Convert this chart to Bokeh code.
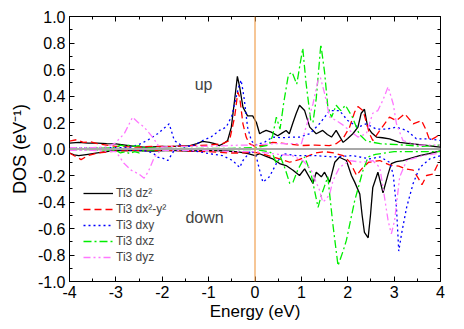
from bokeh.plotting import figure
from bokeh.models import (Span, Legend, LegendItem, LinearAxis, FixedTicker,
                          PrintfTickFormatter, Label, Range1d)
from bokeh.embed import file_html
from bokeh.resources import INLINE

FONT = "Liberation Sans"

# ---------------- data ----------------
x_ticks = [-4, -3, -2, -1, 0, 1, 2, 3, 4]
y_ticks = [-1.0, -0.8, -0.6, -0.4, -0.2, 0.0, 0.2, 0.4, 0.6, 0.8, 1.0]

labels = ["Ti3 dz\u00b2", "Ti3 dx\u00b2-y\u00b2", "Ti3 dxy", "Ti3 dxz", "Ti3 dyz"]

dz2_up_E = [-4.0,-3.8,-3.6,-3.4,-3.2,-3.0,-2.8,-2.6,-2.4,-2.2,-2.0,-1.8,-1.6,-1.4,-1.25,-1.13,-0.98,-0.87,-0.77,-0.66,-0.59,-0.51,-0.44,-0.38,-0.33,-0.26,-0.16,-0.05,0.03,0.1,0.17,0.24,0.35,0.49,0.58,0.67,0.74,0.82,0.89,0.96,1.07,1.18,1.32,1.46,1.56,1.65,1.75,1.9,2.0,2.11,2.22,2.29,2.36,2.43,2.52,2.62,2.75,2.9,3.12,3.34,3.5,3.7,3.85,4.0]
dz2_up = [0.045,0.05,0.044,0.045,0.04,0.038,0.03,0.02,0.014,0.016,0.02,0.018,0.024,0.026,0.04,0.057,0.05,0.04,0.026,0.045,0.064,0.165,0.37,0.548,0.467,0.316,0.25,0.25,0.2,0.115,0.13,0.14,0.127,0.1,0.12,0.14,0.115,0.2,0.27,0.33,0.29,0.165,0.115,0.14,0.11,0.09,0.14,0.05,0.08,0.115,0.165,0.27,0.3,0.165,0.12,0.09,0.085,0.077,0.05,0.04,0.035,0.027,0.02,0.014]

dz2_dn_E = [-4.0,-3.9,-3.8,-3.6,-3.4,-3.2,-3.0,-2.6,-2.2,-1.8,-1.4,-1.0,-0.6,-0.33,-0.15,0.0,0.1,0.2,0.38,0.53,0.67,0.82,0.96,1.07,1.25,1.32,1.43,1.5,1.61,1.72,1.82,1.97,2.08,2.15,2.26,2.31,2.36,2.44,2.49,2.54,2.65,2.76,2.87,2.94,3.05,3.19,3.35,3.55,3.75,4.0]
dz2_dn = [-0.03,-0.045,-0.05,-0.04,-0.03,-0.02,-0.01,-0.012,-0.015,-0.01,-0.015,-0.01,-0.015,-0.024,-0.035,-0.05,-0.036,-0.05,-0.074,-0.11,-0.125,-0.16,-0.2,-0.15,-0.26,-0.175,-0.21,-0.175,-0.25,-0.1,-0.062,-0.087,-0.2,-0.25,-0.34,-0.5,-0.63,-0.67,-0.5,-0.29,-0.175,-0.33,-0.19,-0.11,-0.095,-0.087,-0.07,-0.05,-0.035,-0.015]

dx2_up_E = [-4.0,-3.85,-3.7,-3.55,-3.4,-3.2,-3.0,-2.6,-2.2,-1.8,-1.4,-1.0,-0.7,-0.55,-0.44,-0.37,-0.33,-0.26,-0.19,-0.12,0.0,0.2,0.38,0.55,0.74,1.0,1.3,1.6,1.75,1.9,2.04,2.15,2.22,2.33,2.47,2.54,2.69,2.9,3.05,3.23,3.41,3.59,3.68,3.77,3.9,4.0]
dx2_up = [0.06,0.07,0.05,0.055,0.04,0.03,0.02,0.015,0.02,0.02,0.025,0.03,0.04,0.064,0.24,0.43,0.39,0.19,0.09,0.04,0.02,0.03,0.05,0.045,0.038,0.026,0.03,0.025,0.04,0.08,0.165,0.28,0.32,0.29,0.115,0.064,0.14,0.24,0.215,0.266,0.19,0.215,0.15,0.064,0.09,0.115]

dx2_dn_E = [-4.0,-3.85,-3.75,-3.6,-3.4,-3.0,-2.5,-2.0,-1.5,-1.0,-0.6,-0.3,0.0,0.2,0.38,0.53,0.75,0.95,1.1,1.3,1.5,1.7,1.9,2.05,2.19,2.3,2.45,2.69,2.9,3.1,3.25,3.41,3.52,3.6,3.7,3.84,3.98]
dx2_dn = [-0.03,-0.06,-0.08,-0.05,-0.03,-0.015,-0.01,-0.01,-0.015,-0.02,-0.03,-0.03,-0.025,-0.04,-0.06,-0.074,-0.1,-0.08,-0.06,-0.03,-0.02,-0.03,-0.05,-0.1,-0.2,-0.15,-0.1,-0.087,-0.12,-0.13,-0.15,-0.16,-0.22,-0.27,-0.2,-0.19,-0.087]

dxy_up_E = [-4.0,-3.5,-3.0,-2.7,-2.46,-2.3,-2.1,-1.95,-1.85,-1.74,-1.6,-1.52,-1.3,-1.13,-0.95,-0.77,-0.62,-0.5,-0.44,-0.36,-0.3,-0.26,-0.23,-0.16,-0.08,0.0,0.2,0.38,0.6,0.8,0.96,1.18,1.39,1.61,1.82,2.0,2.22,2.4,2.62,2.83,3.05,3.27,3.48,3.73,4.0]
dxy_up = [0.01,0.01,0.01,0.012,0.04,0.07,0.115,0.16,0.19,0.064,0.03,0.014,0.03,0.064,0.09,0.14,0.165,0.25,0.34,0.46,0.52,0.44,0.37,0.165,0.064,0.03,0.05,0.09,0.085,0.09,0.09,0.115,0.19,0.29,0.29,0.215,0.165,0.19,0.15,0.15,0.165,0.14,0.077,0.077,0.064]

dxy_dn_E = [-4.0,-3.0,-2.4,-2.2,-2.1,-1.98,-1.88,-1.74,-1.5,-1.2,-0.98,-0.7,-0.48,-0.33,-0.26,-0.15,-0.08,0.03,0.1,0.17,0.24,0.31,0.46,0.6,0.9,1.3,1.7,2.1,2.47,2.7,2.9,2.98,3.05,3.1,3.16,3.27,3.41,3.55,3.77,4.0]
dxy_dn = [-0.005,-0.005,-0.01,-0.03,-0.062,-0.07,-0.087,-0.01,-0.01,-0.02,-0.036,-0.05,-0.087,-0.14,-0.087,-0.04,-0.01,-0.06,-0.16,-0.25,-0.23,-0.21,-0.11,-0.036,-0.05,-0.05,-0.06,-0.05,-0.074,-0.06,-0.1,-0.19,-0.44,-0.77,-0.64,-0.44,-0.26,-0.14,-0.074,-0.05]

dxz_up_E = [-4.0,-3.5,-3.0,-2.9,-2.8,-2.7,-2.6,-2.5,-2.4,-2.0,-1.5,-1.0,-0.5,0.0,0.3,0.38,0.46,0.54,0.62,0.72,0.8,0.9,1.03,1.1,1.2,1.25,1.32,1.42,1.5,1.57,1.65,1.75,1.85,1.95,2.1,2.25,2.4,2.7,3.2,3.6,4.0]
dxz_up = [0.005,0.005,0.01,0.03,0.02,0.03,0.02,0.025,0.01,0.005,0.005,0.005,0.005,0.01,0.03,0.1,0.24,0.15,0.35,0.56,0.58,0.49,0.76,0.5,0.22,0.2,0.38,0.79,0.58,0.32,0.24,0.33,0.29,0.33,0.24,0.11,0.06,0.04,0.03,0.02,0.03]

dxz_dn_E = [-4.0,-3.5,-3.0,-2.9,-2.8,-2.7,-2.6,-2.5,-2.4,-2.0,-1.0,0.0,0.3,0.38,0.46,0.55,0.65,0.75,0.82,0.92,1.07,1.21,1.36,1.43,1.5,1.57,1.68,1.79,1.9,1.97,2.15,2.33,2.44,2.6,3.0,3.5,4.0]
dxz_dn = [-0.005,-0.005,-0.01,-0.03,-0.02,-0.035,-0.02,-0.03,-0.01,-0.005,-0.005,-0.005,-0.02,-0.036,-0.11,-0.06,-0.15,-0.26,-0.25,-0.16,-0.06,-0.19,-0.44,-0.35,-0.28,-0.21,-0.57,-0.88,-0.77,-0.69,-0.39,-0.16,-0.06,-0.04,-0.02,-0.02,-0.02]

dyz_up_E = [-4.0,-3.5,-3.2,-3.03,-2.82,-2.64,-2.52,-2.39,-2.21,-2.06,-1.8,-1.4,-1.0,-0.6,-0.3,0.0,0.4,0.8,1.0,1.1,1.25,1.36,1.41,1.5,1.61,1.75,1.9,2.04,2.22,2.4,2.54,2.65,2.76,2.87,2.98,3.05,3.19,3.5,4.0]
dyz_up = [0.01,0.01,0.015,0.04,0.115,0.24,0.2,0.165,0.09,0.014,0.02,0.02,0.02,0.025,0.03,0.03,0.04,0.04,0.04,0.165,0.34,0.52,0.54,0.42,0.24,0.215,0.18,0.14,0.09,0.115,0.27,0.29,0.37,0.47,0.34,0.19,0.064,0.03,0.03]

dyz_dn_E = [-4.0,-3.5,-3.0,-2.82,-2.67,-2.5,-2.39,-2.3,-2.17,-2.03,-1.5,-1.0,-0.5,0.0,0.5,0.8,1.03,1.2,1.39,1.46,1.53,1.61,1.68,1.82,2.04,2.3,2.54,2.69,2.76,2.87,2.94,3.01,3.06,3.12,3.27,3.62,4.0]
dyz_dn = [-0.01,-0.01,-0.02,-0.11,-0.16,-0.19,-0.22,-0.17,-0.062,-0.01,-0.01,-0.01,-0.02,-0.02,-0.04,-0.05,-0.087,-0.15,-0.31,-0.4,-0.38,-0.34,-0.24,-0.14,-0.087,-0.1,-0.087,-0.14,-0.29,-0.54,-0.64,-0.54,-0.39,-0.21,-0.087,-0.05,-0.03]

# ---------------- figure ----------------
p = figure(frame_width=371, frame_height=265, output_backend="svg",
           toolbar_location=None, x_range=Range1d(-4, 4), y_range=Range1d(-1, 1),
           min_border_left=69, min_border_right=16, min_border_top=16,
           min_border_bottom=46, background_fill_color="white",
           border_fill_color="white")
p.grid.visible = False
p.outline_line_color = "black"
p.outline_line_width = 1

def style_axis(ax, show_labels):
    ax.major_tick_in = 5
    ax.major_tick_out = 0
    ax.minor_tick_in = 3
    ax.minor_tick_out = 0
    ax.axis_line_color = "black"
    ax.major_tick_line_color = "black"
    ax.minor_tick_line_color = "black"
    ax.major_label_text_font = FONT
    ax.axis_label_text_font = FONT
    ax.axis_label_text_font_style = "normal"
    ax.axis_label_text_color = "black"
    if show_labels:
        ax.major_label_text_color = "black"
        ax.major_label_text_font_size = "16px"
        ax.axis_label_text_font_size = "17px"
    else:
        ax.major_label_text_color = None
        ax.major_label_text_alpha = 0
        ax.major_label_text_font_size = "1px"
        ax.major_label_standoff = 0

xt = FixedTicker(ticks=x_ticks, minor_ticks=[v / 2 for v in range(-8, 9)])
yt = FixedTicker(ticks=y_ticks, minor_ticks=[round(v / 10, 1) for v in range(-10, 11)])

p.xaxis.ticker = xt
p.yaxis.ticker = yt
p.xaxis.formatter = PrintfTickFormatter(format="%d")
p.yaxis.formatter = PrintfTickFormatter(format="%.1f")
p.xaxis.axis_label = "Energy (eV)"
p.yaxis.axis_label = "DOS (eV\u207b\u00b9)"
for ax in p.xaxis + p.yaxis:
    style_axis(ax, True)
p.yaxis.axis_label_text_font_size = "18px"
p.xaxis.major_label_standoff = 4
p.xaxis.axis_label_standoff = 1
p.yaxis.major_label_standoff = 4
p.yaxis.axis_label_standoff = 5

top = LinearAxis(ticker=xt)
right = LinearAxis(ticker=yt)
style_axis(top, False)
style_axis(right, False)
p.add_layout(top, "above")
p.add_layout(right, "right")

# reference lines
p.add_layout(Span(location=0, dimension="width", line_color="#a8a8a8", line_width=2))
p.add_layout(Span(location=0, dimension="height", line_color="#f0a050", line_width=1.2))

colors = ["#000000", "#ff0000", "#0000ff", "#00ee00", "#ff77ff"]
dashes = ["solid", "7 4", "2 3", "8 3 2 3", "7 3 2 3 2 3"]
series = [(dz2_up_E, dz2_up, dz2_dn_E, dz2_dn),
          (dx2_up_E, dx2_up, dx2_dn_E, dx2_dn),
          (dxy_up_E, dxy_up, dxy_dn_E, dxy_dn),
          (dxz_up_E, dxz_up, dxz_dn_E, dxz_dn),
          (dyz_up_E, dyz_up, dyz_dn_E, dyz_dn)]

items = []
for (ue, uv, de, dv), c, d, lab in zip(series, colors, dashes, labels):
    r1 = p.line(ue, uv, line_color=c, line_dash=d, line_width=1.3)
    p.line(de, dv, line_color=c, line_dash=d, line_width=1.3)
    items.append(LegendItem(label=lab, renderers=[r1]))

legend = Legend(items=items, location=(14, 16), padding=0, margin=0,
                border_line_color=None, background_fill_alpha=0,
                label_text_font=FONT, label_text_font_size="12px",
                glyph_width=30, glyph_height=16, label_height=16,
                label_standoff=3, spacing=0)
p.add_layout(legend, "center")

p.add_layout(Label(x=-1.3, y=0.49, text="up", text_font=FONT,
                   text_font_size="16px", text_baseline="alphabetic"))
p.add_layout(Label(x=-1.5, y=-0.52, text="down", text_font=FONT,
                   text_font_size="16px", text_baseline="alphabetic"))

open("out.html", "w").write(file_html(p, INLINE))
